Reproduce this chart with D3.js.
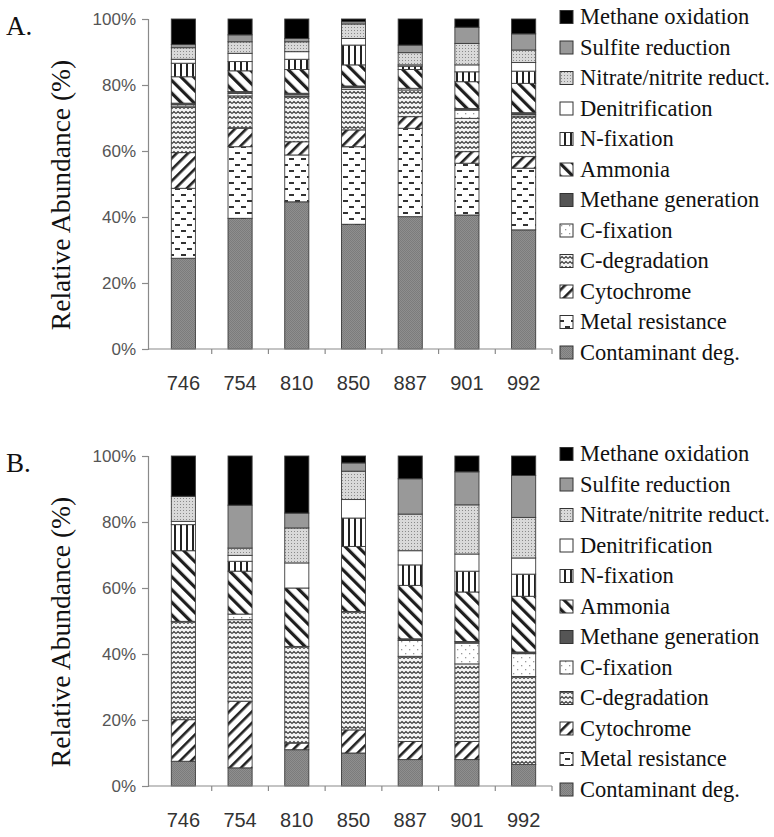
<!DOCTYPE html>
<html>
<head>
<meta charset="utf-8">
<script src="https://cdn.jsdelivr.net/npm/d3@7"></script>
<style>
  body { margin: 0; background: #fff; }
  svg { display: block; }
  .serif { font-family: "Liberation Serif", "Times New Roman", "DejaVu Serif", serif; }
  .sans { font-family: "Liberation Sans", Arial, "DejaVu Sans", sans-serif; }
</style>
</head>
<body>
<svg id="chart" width="774" height="837"></svg>
<script>
// Sampling sites (x categories) and percent ticks
const sites = ["746", "754", "810", "850", "887", "901", "992"];
const yTicks = [0, 20, 40, 60, 80, 100];

// Functional groups, stacked bottom to top
const functionNames = [
  "Contaminant deg.", "Metal resistance", "Cytochrome", "C-degradation",
  "C-fixation", "Methane generation", "Ammonia", "N-fixation",
  "Denitrification", "Nitrate/nitrite reduct.", "Sulfite reduction", "Methane oxidation"
];

// Panel A relative abundance (%) per site
const contaminantA = [27.5, 39.6, 44.6, 37.8, 40.1, 40.6, 36.1];
const metalA       = [21.2, 21.7, 14.2, 23.5, 26.8, 15.7, 18.7];
const cytochromeA  = [10.8, 5.6, 4.0, 5.1, 3.5, 3.5, 3.5];
const cDegA        = [13.9, 9.8, 13.7, 12.3, 8.1, 10.1, 12.3];
const cFixA        = [0.6, 0.8, 0.5, 0.5, 0.5, 2.5, 0.5];
const methGenA     = [0.5, 0.5, 0.5, 0.5, 0.0, 0.5, 0.5];
const ammoniaA     = [8.0, 6.3, 7.2, 6.4, 5.7, 8.1, 8.9];
const nFixA        = [4.1, 2.8, 3.1, 6.0, 1.0, 3.0, 3.7];
const denitA       = [1.2, 2.5, 2.3, 2.0, 0.4, 2.1, 2.6];
const nitrateA     = [3.5, 3.5, 3.0, 4.4, 3.7, 6.5, 3.8];
const sulfiteA     = [1.0, 2.1, 1.0, 0.7, 2.3, 4.9, 4.9];
const methOxA      = [7.7, 4.8, 5.9, 0.8, 7.9, 2.5, 4.5];

// Panel B relative abundance (%) per site
const contaminantB = [7.5, 5.5, 11.0, 10.0, 8.0, 8.0, 6.5];
const metalB       = [0, 0, 0, 0, 0, 0, 0];
const cytochromeB  = [12.6, 20.2, 2.0, 7.0, 5.5, 5.5, 0.0];
const cDegB        = [29.8, 24.7, 29.3, 35.9, 25.8, 23.5, 26.7];
const cFixB        = [0.0, 1.7, 0.0, 0.0, 4.8, 6.3, 6.9];
const methGenB     = [0.0, 0.0, 0.0, 0.0, 0.5, 0.5, 0.5];
const ammoniaB     = [21.4, 13.0, 17.7, 19.7, 16.2, 15.0, 16.9];
const nFixB        = [7.9, 3.0, 0.0, 8.6, 6.2, 6.3, 6.7];
const denitB       = [1.0, 1.8, 7.6, 5.6, 4.3, 5.2, 4.9];
const nitrateB     = [7.6, 2.2, 10.6, 8.6, 11.1, 14.9, 12.3];
const sulfiteB     = [0.0, 13.0, 4.5, 2.5, 10.7, 10.0, 12.7];
const methOxB      = [12.2, 14.9, 17.3, 2.1, 6.9, 4.8, 5.9];

const seriesA = [contaminantA, metalA, cytochromeA, cDegA, cFixA, methGenA,
                 ammoniaA, nFixA, denitA, nitrateA, sulfiteA, methOxA];
const seriesB = [contaminantB, metalB, cytochromeB, cDegB, cFixB, methGenB,
                 ammoniaB, nFixB, denitB, nitrateB, sulfiteB, methOxB];

const svg = d3.select("#chart");
const defs = svg.append("defs");

// ---- Fill patterns (black & white hatch styles) ----
function pat(id, w, h, bg, draw, transform) {
  const p = defs.append("pattern").attr("id", id)
    .attr("patternUnits", "userSpaceOnUse").attr("width", w).attr("height", h);
  if (transform) p.attr("patternTransform", transform);
  p.append("rect").attr("width", w).attr("height", h).attr("fill", bg);
  draw(p);
}
// fine gray texture
pat("p-contam", 2, 2, "#8f8f8f", p => {
  p.append("rect").attr("width", 1).attr("height", 1).attr("fill", "#7c7c7c");
  p.append("rect").attr("x", 1).attr("y", 1).attr("width", 1).attr("height", 1).attr("fill", "#7c7c7c");
});
// staggered short dashes
pat("p-metal", 12, 12, "#fff", p => {
  p.append("rect").attr("x", 1).attr("y", 2).attr("width", 5).attr("height", 2).attr("fill", "#333");
  p.append("rect").attr("x", 7).attr("y", 8).attr("width", 5).attr("height", 2).attr("fill", "#333");
});
// wide upward diagonal
pat("p-cyto", 8, 8, "#fff", p => {
  p.append("rect").attr("width", 2.6).attr("height", 8).attr("fill", "#222");
}, "rotate(45)");
// horizontal zigzag
pat("p-cdeg", 8, 5, "#f4f4f4", p => {
  p.append("path").attr("d", "M0 3.5 L2 1.5 L4 3.5 L6 1.5 L8 3.5")
    .attr("fill", "none").attr("stroke", "#3a3a3a").attr("stroke-width", 1.1);
});
// sparse dots on white
pat("p-cfix", 8, 8, "#fff", p => {
  p.append("rect").attr("x", 1).attr("y", 1).attr("width", 1.3).attr("height", 1.3).attr("fill", "#999");
  p.append("rect").attr("x", 5).attr("y", 5).attr("width", 1.3).attr("height", 1.3).attr("fill", "#999");
});
// wide downward diagonal
pat("p-ammonia", 9, 9, "#fff", p => {
  p.append("rect").attr("width", 3.2).attr("height", 9).attr("fill", "#1e1e1e");
}, "rotate(-45)");
// wide vertical stripes
pat("p-nfix", 6, 6, "#fff", p => {
  p.append("rect").attr("x", 0).attr("width", 2).attr("height", 6).attr("fill", "#222");
});
// light gray dotted
pat("p-nitrate", 3, 3, "#d9d9d9", p => {
  p.append("rect").attr("width", 1).attr("height", 1).attr("fill", "#8a8a8a");
});

const fills = ["url(#p-contam)", "url(#p-metal)", "url(#p-cyto)", "url(#p-cdeg)",
  "url(#p-cfix)", "#555", "url(#p-ammonia)", "url(#p-nfix)", "#fff",
  "url(#p-nitrate)", "#999", "#000"];

// ---- Panels ----
const panels = [
  { label: "A.", series: seriesA, top: 19, bottom: 349 },
  { label: "B.", series: seriesB, top: 456, bottom: 786 }
];

const axisX = 148, plotRight = 552;
const x = d3.scaleBand().domain(sites).range([155, plotRight]).paddingInner(0.575).paddingOuter(0.2875);

panels.forEach(panel => {
  const g = svg.append("g");
  const y = d3.scaleLinear().domain([0, 100]).range([panel.bottom, panel.top]);

  // table for the stack layout
  const table = sites.map((s, i) => {
    const row = { site: s };
    functionNames.forEach((f, k) => row[f] = panel.series[k][i]);
    return row;
  });
  const stacked = d3.stack().keys(functionNames)(table);

  // bars
  stacked.forEach((layer, k) => {
    g.append("g").selectAll("rect").data(layer).join("rect")
      .attr("x", d => x(d.data.site))
      .attr("width", x.bandwidth())
      .attr("y", d => y(d[1]))
      .attr("height", d => Math.max(0, y(d[0]) - y(d[1])))
      .attr("fill", fills[k])
      .attr("stroke", "#3c3c3c")
      .attr("stroke-width", d => (d[1] - d[0]) > 0 ? 0.9 : 0);
  });

  // y axis
  const yAxis = g.append("g").attr("transform", `translate(${axisX},0)`)
    .call(d3.axisLeft(y).tickValues(yTicks).tickFormat(d => d + "%").tickSize(6).tickPadding(6));
  yAxis.attr("font-family", null).attr("font-size", null);
  yAxis.select(".domain").attr("stroke", "#8a8a8a").attr("stroke-width", 1.2);
  yAxis.selectAll(".tick line").attr("stroke", "#8a8a8a").attr("stroke-width", 1.2);
  yAxis.selectAll(".tick text").attr("class", "sans")
    .attr("font-size", 17).attr("fill", "#555");

  // x axis: baseline with ticks between categories
  const xg = g.append("g");
  xg.append("line").attr("x1", axisX).attr("x2", plotRight)
    .attr("y1", panel.bottom).attr("y2", panel.bottom)
    .attr("stroke", "#8a8a8a").attr("stroke-width", 1.2);
  const step = x.step();
  const bounds = sites.slice(1).map(s => x(s) - (step - x.bandwidth()) / 2).concat([plotRight]);
  xg.selectAll("line.tk").data(bounds).join("line").attr("class", "tk")
    .attr("x1", d => d).attr("x2", d => d)
    .attr("y1", panel.bottom).attr("y2", panel.bottom + 5)
    .attr("stroke", "#8a8a8a").attr("stroke-width", 1.2);
  xg.selectAll("text").data(sites).join("text")
    .attr("class", "sans")
    .attr("x", d => x(d) + x.bandwidth() / 2)
    .attr("y", panel.bottom + 41)
    .attr("text-anchor", "middle")
    .attr("font-size", 20).attr("fill", "#333")
    .text(d => d);

  // panel letter
  g.append("text").attr("class", "serif").attr("x", 6).attr("y", panel.top + 16)
    .attr("font-size", 27).attr("fill", "#111").text(panel.label);

  // y title
  const cy = (panel.top + panel.bottom) / 2 + 11;
  g.append("text").attr("class", "serif")
    .attr("transform", `translate(70,${cy}) rotate(-90)`)
    .attr("text-anchor", "middle")
    .attr("font-size", 27.5).attr("fill", "#111")
    .text("Relative Abundance (%)");

  // legend, top entry = top of stack
  const legendItems = functionNames.map((f, k) => ({ f, k })).reverse();
  const lg = g.append("g");
  legendItems.forEach((item, j) => {
    const cyL = panel.top - 2 + j * 30.5;
    lg.append("rect").attr("x", 560).attr("y", cyL - 6.5).attr("width", 13).attr("height", 13)
      .attr("fill", fills[item.k]).attr("stroke", "#333").attr("stroke-width", 1);
    lg.append("text").attr("class", "serif").attr("x", 580).attr("y", cyL + 7)
      .attr("font-size", 22.5).attr("fill", "#111").text(item.f);
  });
});
</script>
</body>
</html>
